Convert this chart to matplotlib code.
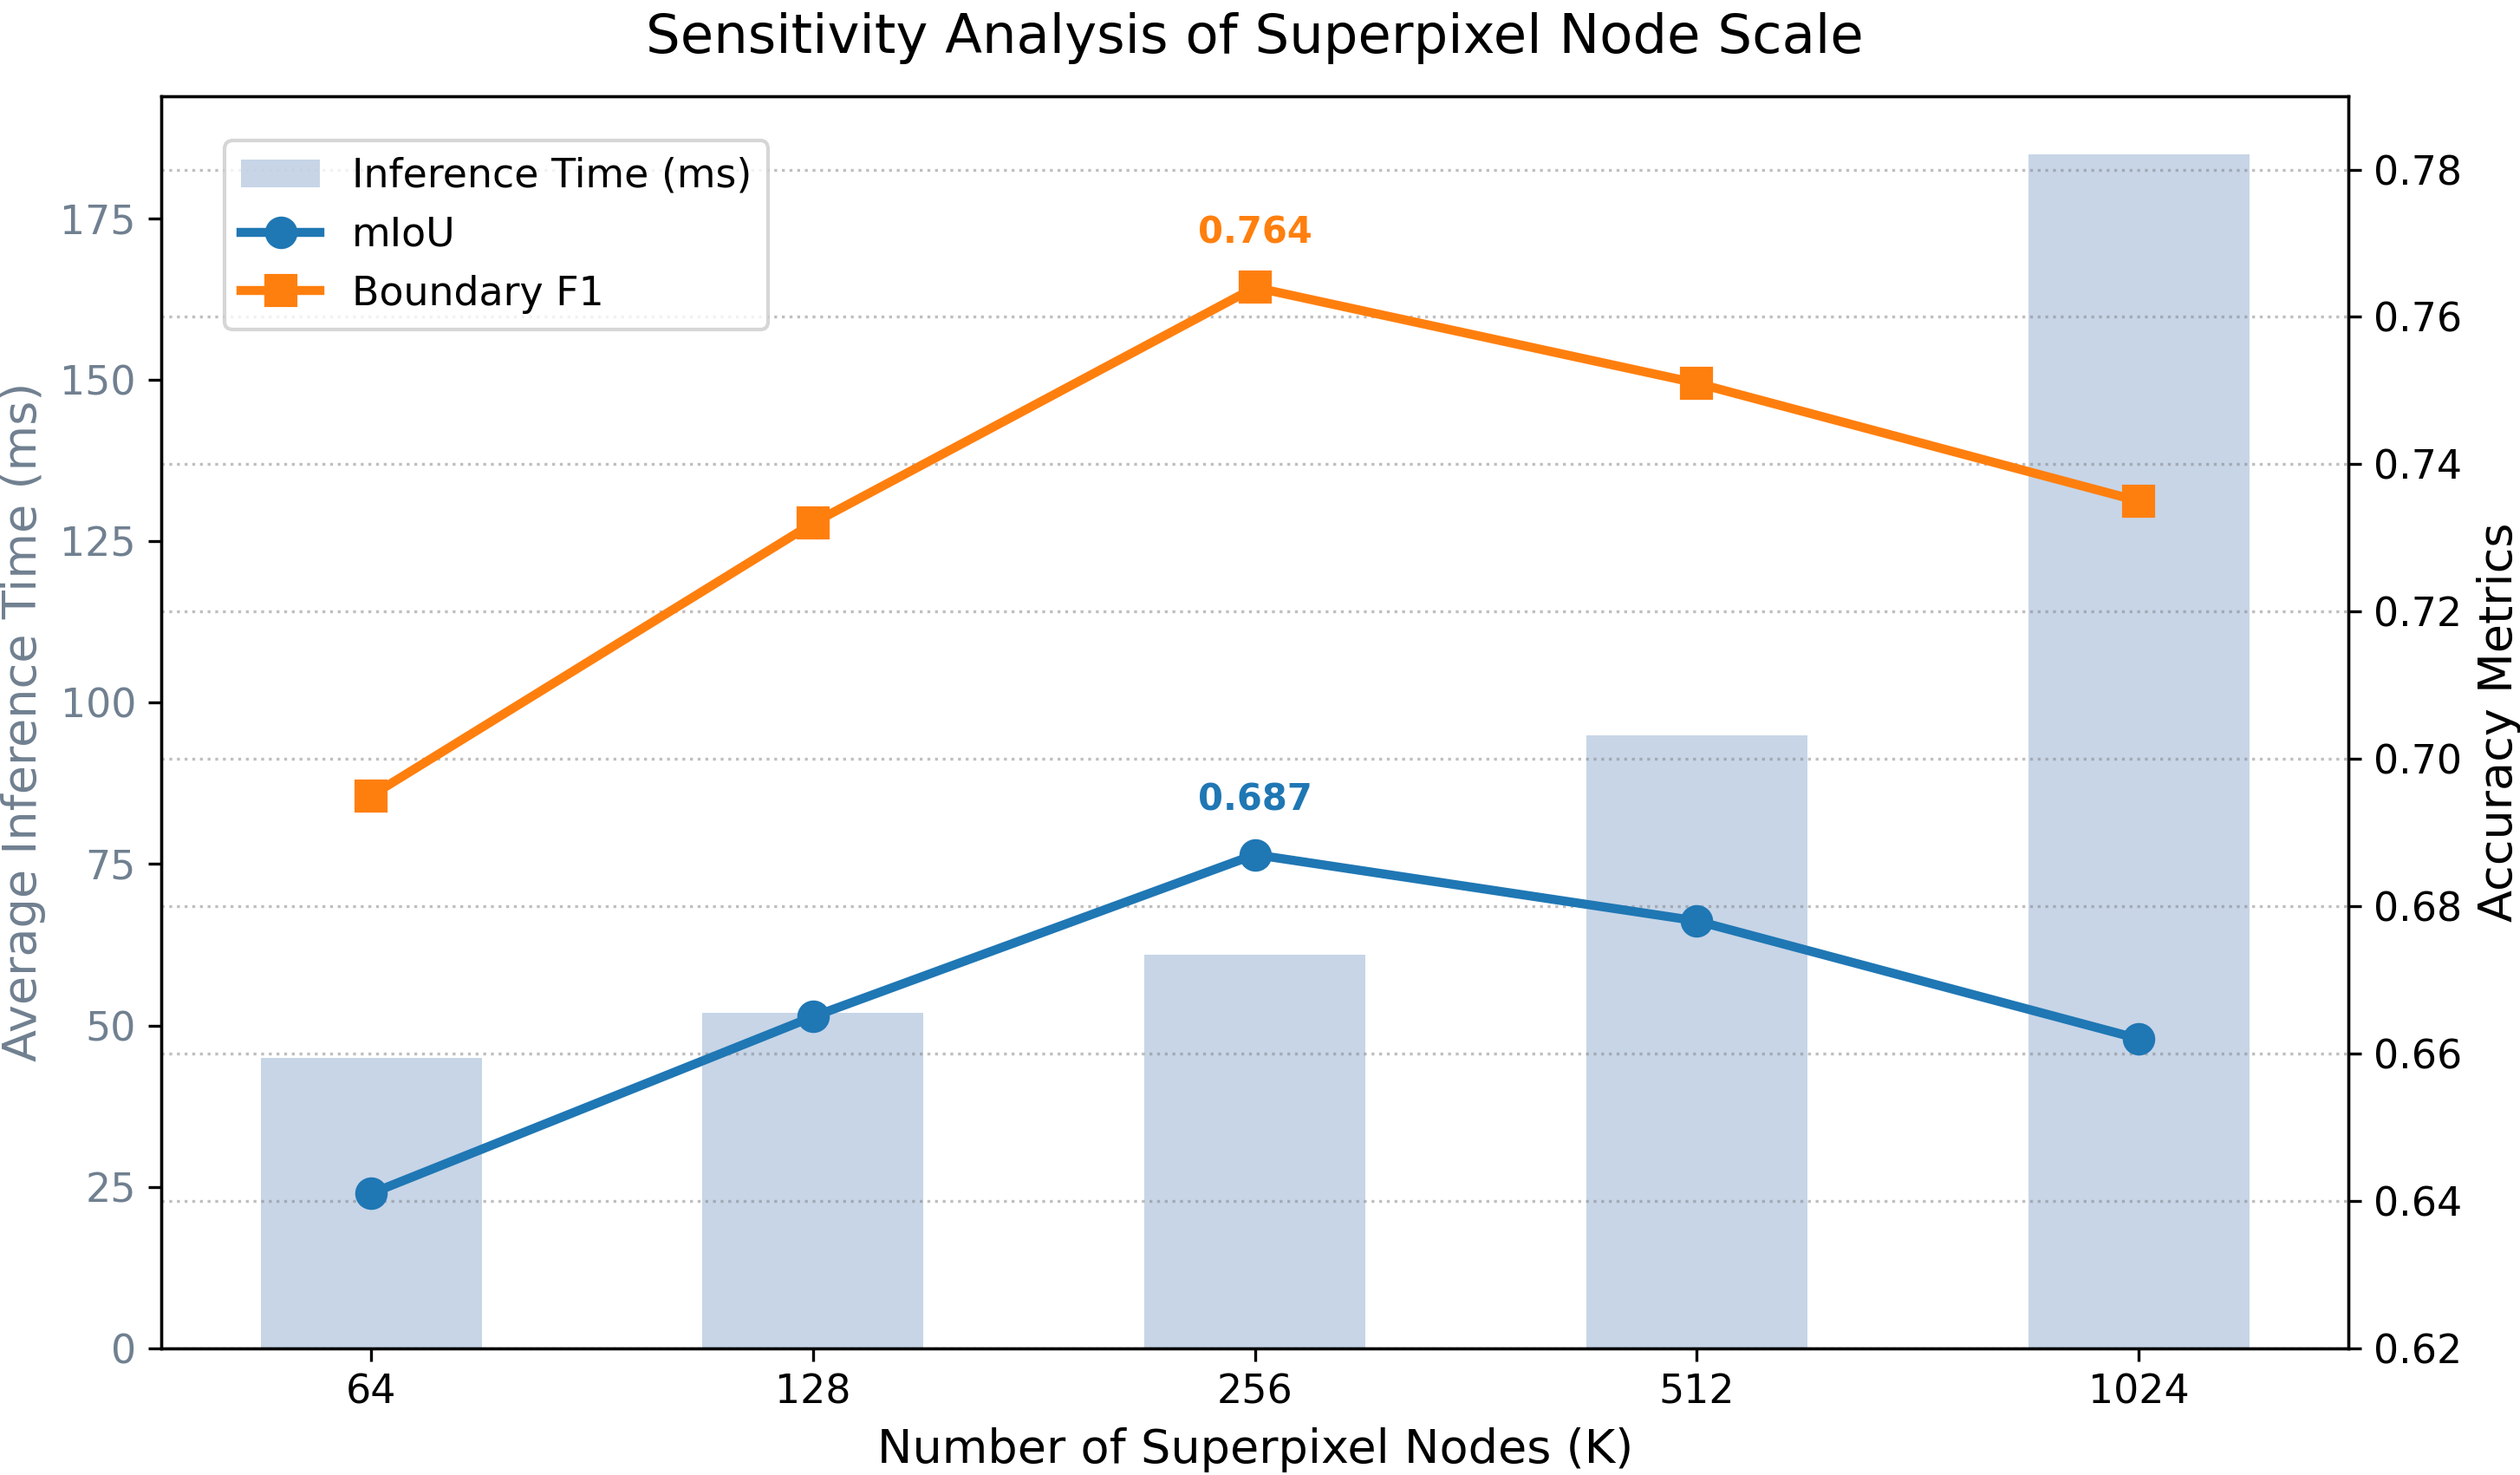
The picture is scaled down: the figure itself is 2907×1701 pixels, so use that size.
import matplotlib.pyplot as plt
import numpy as np

nodes = ['64', '128', '256', '512', '1024']
inference_ms = [45, 52, 61, 95, 185]
miou = [0.641, 0.665, 0.687, 0.678, 0.662]
boundary_f1 = [0.695, 0.732, 0.764, 0.751, 0.735]

x = np.arange(len(nodes))

fig, ax1 = plt.subplots(figsize=(9.69, 5.67))
fig.subplots_adjust(left=0.064, right=0.932, top=0.935, bottom=0.086)

bars = ax1.bar(x, inference_ms, width=0.5, color='lightsteelblue', alpha=0.7,
               label='Inference Time (ms)')
ax1.set_ylim(0, 194)
ax1.set_xticks(x)
ax1.set_xticklabels(nodes)
ax1.set_xlabel('Number of Superpixel Nodes (K)', fontsize=13)
ax1.set_ylabel('Average Inference Time (ms)', fontsize=13, color='slategray')
ax1.tick_params(axis='y', labelcolor='slategray', labelsize=11)
ax1.tick_params(axis='x', labelsize=11)

ax2 = ax1.twinx()
l1, = ax2.plot(x, miou, color='#1f77b4', marker='o', linewidth=2.5, markersize=8, label='mIoU')
l2, = ax2.plot(x, boundary_f1, color='#ff7f0e', marker='s', linewidth=2.5, markersize=8, label='Boundary F1')
ax2.set_ylim(0.62, 0.79)
ax2.set_ylabel('Accuracy Metrics', fontsize=13)
ax2.tick_params(axis='y', labelsize=11)
ax2.grid(True, axis='y', linestyle=':', color='gray', alpha=0.5)

# label the best point of each metric
for vals, col in [(miou, '#1f77b4'), (boundary_f1, '#ff7f0e')]:
    i = int(np.argmax(vals))
    ax2.annotate(f'{vals[i]:.3f}', (x[i], vals[i]), xytext=(0, 10), textcoords='offset points',
                 ha='center', va='bottom', color=col, fontweight='bold', fontsize=10)

ax2.legend([bars, l1, l2], [bars.get_label(), l1.get_label(), l2.get_label()],
           loc='upper left', bbox_to_anchor=(0.02, 0.98), fontsize=11)

plt.title('Sensitivity Analysis of Superpixel Node Scale', fontsize=15, pad=12)
plt.savefig('out.png', dpi=300)
plt.close()
